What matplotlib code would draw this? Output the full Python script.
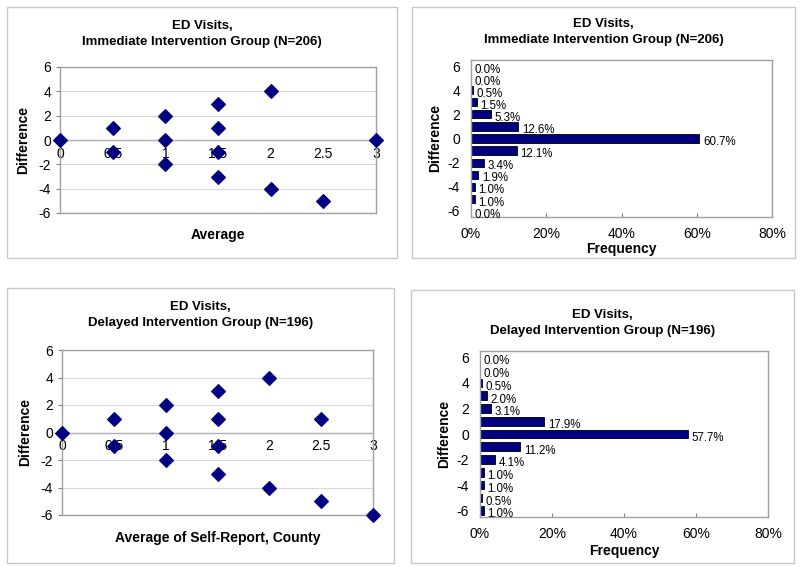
import numpy as np
import matplotlib
matplotlib.use("Agg")
import matplotlib.pyplot as plt
from matplotlib.patches import Rectangle

plt.rcParams['font.family'] = ['Liberation Sans', 'DejaVu Sans']
plt.rcParams['axes.unicode_minus'] = False

# scatter data (Bland-Altman style)
imm_avg = [0, 0.5, 0.5, 1, 1, 1, 1.5, 1.5, 1.5, 1.5, 2, 2, 2.5, 3]
imm_diff = [0, 1, -1, 2, 0, -2, 3, 1, -1, -3, 4, -4, -5, 0]
del_avg = [0, 0.5, 0.5, 1, 1, 1, 1.5, 1.5, 1.5, 1.5, 2, 2, 2.5, 2.5, 3]
del_diff = [0, 1, -1, 2, 0, -2, 3, 1, -1, -3, 4, -4, 1, -5, -6]

# frequency of differences
diff_levels = [6, 5, 4, 3, 2, 1, 0, -1, -2, -3, -4, -5, -6]
imm_freq = [0.0, 0.0, 0.5, 1.5, 5.3, 12.6, 60.7, 12.1, 3.4, 1.9, 1.0, 1.0, 0.0]
del_freq = [0.0, 0.0, 0.5, 2.0, 3.1, 17.9, 57.7, 11.2, 4.1, 1.0, 1.0, 0.5, 1.0]

titles = ["ED Visits,\nImmediate Intervention Group (N=206)",
          "ED Visits,\nDelayed Intervention Group (N=196)"]

NAVY = '#000080'
GRID = '#d9d9d9'
EDGE = '#a0a0a0'
W, H = 800, 567

fig = plt.figure(figsize=(8, 5.67), dpi=100)


def px_axes(x0, y0, x1, y1):
    return fig.add_axes([x0 / W, (H - y1) / H, (x1 - x0) / W, (y1 - y0) / H])


def px_box(x0, y0, x1, y1):
    fig.patches.append(Rectangle((x0 / W, (H - y1) / H), (x1 - x0) / W, (y1 - y0) / H,
                                 transform=fig.transFigure, fill=False,
                                 edgecolor='#c8c8c8', linewidth=1.0))


def style_frame(ax):
    for s in ['top', 'right', 'bottom', 'left']:
        ax.spines[s].set_color(EDGE)
        ax.spines[s].set_linewidth(1.0)
    ax.tick_params(colors='#808080', labelcolor='black', labelsize=10, length=3)


def scatter_panel(box, area, avg, diff, title, xlabel, xlabel_y, title_dy):
    px_box(*box)
    ax = px_axes(*area)
    ax.scatter(avg, diff, marker='D', s=48, color=NAVY, zorder=5, clip_on=False)
    ax.set_xlim(0, 3)
    ax.set_ylim(-6, 6)
    ax.set_yticks(np.arange(-6, 7, 2))
    ax.set_xticks([0, 0.5, 1, 1.5, 2, 2.5, 3])
    ax.set_xticklabels(['0', '0.5', '1', '1.5', '2', '2.5', '3'])
    ax.yaxis.grid(True, color=GRID, linewidth=0.8)
    ax.set_axisbelow(True)
    style_frame(ax)
    # frame line at the bottom of the plot area, x axis crosses at zero
    ax.axhline(-6, color=EDGE, linewidth=1.0, clip_on=False)
    ax.spines['bottom'].set_position(('data', 0))
    ax.spines['bottom'].set_color('#b0b0b0')
    ax.tick_params(axis='x', length=0, pad=5)
    ax.set_ylabel('Difference', fontsize=10, fontweight='bold', labelpad=6)
    cx = (area[0] + area[2]) / 2 / W
    fig.text(cx, 1 - xlabel_y / H, xlabel, ha='center', va='center',
             fontsize=10, fontweight='bold')
    fig.text((box[0] + box[2]) / 2 / W, 1 - (box[1] + title_dy) / H, title,
             ha='center', va='center', fontsize=9.5, fontweight='bold', linespacing=1.5)
    return ax


def bar_panel(box, area, freq, title, xlabel_y, title_dy):
    px_box(*box)
    ax = px_axes(*area)
    ax.barh(diff_levels, freq, height=0.68, color=NAVY, edgecolor='black', linewidth=0.6)
    for lev, f in zip(diff_levels, freq):
        ax.text(f + 1.0, lev - 0.3, f'{f:.1f}%', ha='left', va='center', fontsize=8.3)
    ax.set_xlim(0, 80)
    ax.set_ylim(-6.5, 6.5)
    ax.set_yticks(np.arange(-6, 7, 2))
    ax.set_xticks(np.arange(0, 81, 20))
    ax.set_xticklabels([f'{v}%' for v in range(0, 81, 20)])
    style_frame(ax)
    ax.tick_params(axis='x', direction='in', length=3, pad=7)
    ax.tick_params(axis='y', length=0, pad=8)
    ax.set_ylabel('Difference', fontsize=10, fontweight='bold', labelpad=4)
    cx = (area[0] + area[2]) / 2 / W
    fig.text(cx, 1 - xlabel_y / H, 'Frequency', ha='center', va='center',
             fontsize=10, fontweight='bold')
    fig.text((box[0] + box[2]) / 2 / W, 1 - (box[1] + title_dy) / H, title,
             ha='center', va='center', fontsize=9.5, fontweight='bold', linespacing=1.5)
    return ax


scatter_panel((7, 7, 397, 258), (60, 67, 376, 213), imm_avg, imm_diff,
              titles[0], 'Average', 235, 27)
scatter_panel((7, 288, 394, 563), (62, 350, 373, 515), del_avg, del_diff,
              titles[1], 'Average of Self-Report, County', 538, 27)
bar_panel((412, 7, 795, 258), (471, 60, 772, 217), imm_freq, titles[0], 249, 25)
bar_panel((411, 290, 794, 563), (480, 351, 768, 517), del_freq, titles[1], 551, 33)

fig.savefig('out.png', dpi=100)
